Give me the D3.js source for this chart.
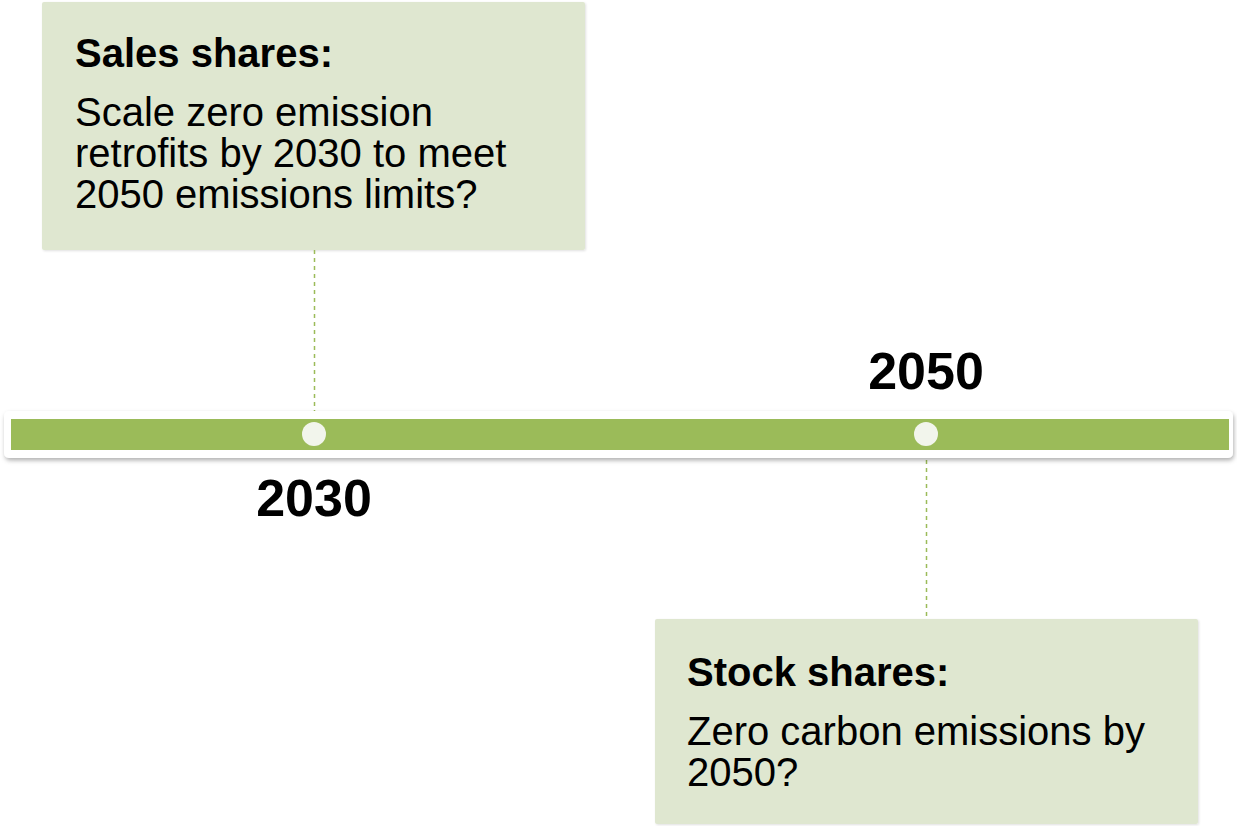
<!DOCTYPE html>
<html lang="en">
  <head>
    <meta charset="UTF-8" />
    <script src="https://d3js.org/d3.v7.min.js"></script>
    <title>Timeline 2030 / 2050</title>
    <style type="text/css">
      body { margin: 0; background: #fff; }
      text { font-family: 'Liberation Sans', Arial, sans-serif; }
    </style>
  </head>
  <body>
    <svg width="1237" height="826"></svg>
  </body>
  <script type="text/javascript">
    // data
    const years = [2030, 2050];
    const titles = ['Sales shares:', 'Stock shares:'];
    const bodies = [
      ['Scale zero emission', 'retrofits by 2030 to meet', '2050 emissions limits?'],
      ['Zero carbon emissions by', '2050?']
    ];
    const sides = ['above', 'below'];
    const yearDomain = [2020, 2060];

    const svg = d3.select('svg');
    const width = +svg.attr('width');

    const green = '#9bbb59';
    const boxFill = '#dfe7d0';

    // shadow filters
    const defs = svg.append('defs');
    const f = defs.append('filter').attr('id', 'shadow').attr('x', '-5%').attr('y', '-30%').attr('width', '110%').attr('height', '170%');
    f.append('feDropShadow').attr('dx', 1).attr('dy', 2.5).attr('stdDeviation', 2).attr('flood-color', '#000').attr('flood-opacity', 0.3);
    const fs = defs.append('filter').attr('id', 'soft').attr('x', '-5%').attr('y', '-5%').attr('width', '110%').attr('height', '110%');
    fs.append('feDropShadow').attr('dx', 1).attr('dy', 1).attr('stdDeviation', 1).attr('flood-color', '#000').attr('flood-opacity', 0.12);

    // x scale for years
    const x = d3.scaleLinear().domain(yearDomain).range([8, 1232]);

    const milestones = years.map((y, i) => ({ year: y, title: titles[i], lines: bodies[i], side: sides[i] }));

    const barY = 434;

    // boxes
    const boxW = 543;
    const boxes = svg.selectAll('.box')
      .data(milestones)
      .join('g')
      .attr('class', 'box');

    boxes.append('rect')
      .attr('x', (d) => (d.side === 'above' ? x(d.year) - 272 : x(d.year) - 271))
      .attr('y', (d) => (d.side === 'above' ? 2 : 619))
      .attr('width', boxW)
      .attr('height', (d) => (d.side === 'above' ? 248 : 205))
      .attr('rx', 2)
      .attr('fill', boxFill)
      .attr('filter', 'url(#soft)');

    boxes.append('text')
      .attr('x', (d) => x(d.year) - 239)
      .attr('y', (d) => (d.side === 'above' ? 67 : 686))
      .attr('font-size', '40px')
      .attr('font-weight', 'bold')
      .attr('fill', '#000')
      .text((d) => d.title);

    boxes.each(function (d) {
      const y0 = d.side === 'above' ? 126 : 745;
      d3.select(this).selectAll('.line')
        .data(d.lines)
        .join('text')
        .attr('class', 'line')
        .attr('x', x(d.year) - 239)
        .attr('y', (t, j) => y0 + j * 41)
        .attr('font-size', '40px')
        .attr('fill', '#000')
        .text((t) => t);
    });

    // dashed connectors
    svg.selectAll('.conn')
      .data(milestones)
      .join('line')
      .attr('class', 'conn')
      .attr('x1', (d) => x(d.year) + 0.5)
      .attr('x2', (d) => x(d.year) + 0.5)
      .attr('y1', (d) => (d.side === 'above' ? 250 : 452))
      .attr('y2', (d) => (d.side === 'above' ? 418 : 619))
      .attr('stroke', green)
      .attr('stroke-width', 1.5)
      .attr('stroke-dasharray', '4,4');

    // timeline bar
    svg.append('rect')
      .attr('x', 4)
      .attr('y', 411)
      .attr('width', width - 8)
      .attr('height', 47)
      .attr('rx', 5)
      .attr('fill', '#fff')
      .attr('filter', 'url(#shadow)');

    svg.append('rect')
      .attr('x', x(yearDomain[0]) + 3)
      .attr('y', 419)
      .attr('width', x(yearDomain[1]) - x(yearDomain[0]) - 6)
      .attr('height', 31)
      .attr('fill', green);

    // markers
    svg.selectAll('.dot')
      .data(milestones)
      .join('circle')
      .attr('class', 'dot')
      .attr('cx', (d) => x(d.year))
      .attr('cy', barY)
      .attr('r', 12)
      .attr('fill', '#f2f5ec');

    // year labels
    svg.selectAll('.year')
      .data(milestones)
      .join('text')
      .attr('class', 'year')
      .attr('x', (d) => x(d.year))
      .attr('y', (d) => (d.side === 'above' ? 516 : 389))
      .attr('text-anchor', 'middle')
      .attr('font-size', '52px')
      .attr('font-weight', 'bold')
      .attr('fill', '#000')
      .text((d) => d.year);
  </script>
</html>
